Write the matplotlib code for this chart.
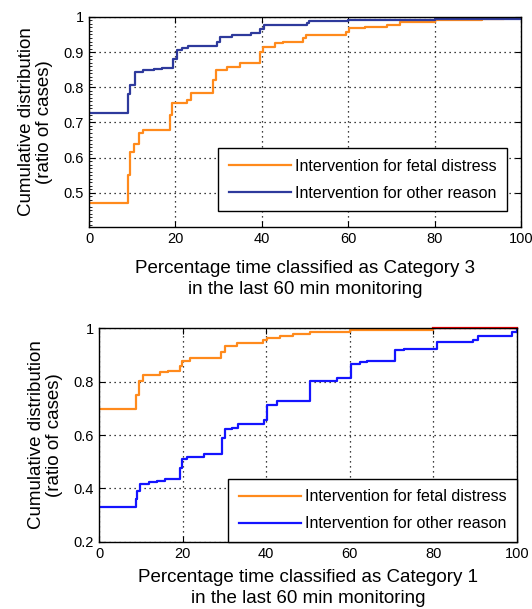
import numpy as np
import matplotlib
matplotlib.use("Agg")
import matplotlib.pyplot as plt
from matplotlib.ticker import MultipleLocator

plt.rcParams['font.family'] = ['Liberation Sans', 'DejaVu Sans']

# --- top panel: Category 3
cat3_fetal_x = [0, 9.1, 9.5, 10.0, 10.5, 11.5, 12.5, 18.8, 19.3, 19.9, 22.6, 23.5, 28.8, 29.3, 29.9,
                32, 35, 39.6, 40.3, 43, 45, 49.5, 50.2, 59.5, 60.3, 64, 69, 72, 80, 88, 91, 96, 100]
cat3_fetal_y = [0.472, 0.55, 0.617, 0.617, 0.64, 0.669, 0.678, 0.72, 0.754, 0.754, 0.764, 0.784, 0.82, 0.849, 0.849,
                0.858, 0.868, 0.90, 0.915, 0.925, 0.928, 0.94, 0.948, 0.958, 0.967, 0.971, 0.976, 0.986, 0.99, 0.9925, 0.995, 0.996, 0.996]
cat3_other_x = [0, 9.1, 9.6, 10.6, 12.5, 15, 17, 19.5, 20.3, 21.5, 23, 29.6, 30.3, 33, 37.5, 39.6, 40.5, 50.4, 51,
                60, 80, 100]
cat3_other_y = [0.726, 0.78, 0.806, 0.844, 0.848, 0.851, 0.854, 0.88, 0.906, 0.912, 0.917, 0.93, 0.944, 0.948, 0.955, 0.965,
                0.977, 0.983, 0.989, 0.991, 0.9935, 0.996]

# --- bottom panel: Category 1
cat1_fetal_x = [0, 8.85, 9.65, 10.6, 14.6, 16.6, 19.4, 19.8, 21.8, 29.3, 30.1, 32.9, 39.3, 40.1, 43.3,
                46.5, 50.5, 60, 80]
cat1_fetal_y = [0.698, 0.75, 0.801, 0.826, 0.835, 0.841, 0.86, 0.876, 0.888, 0.91, 0.932, 0.944, 0.955, 0.963, 0.973,
                0.978, 0.988, 0.993, 1.0]
cat1_other_x = [0, 8.85, 9.2, 9.8, 12, 13.8, 15.8, 19.4, 19.8, 21, 25, 29.5, 30.1, 31.7, 33.3, 39.5, 40.1,
                42.5, 50.5, 56.9, 60.4, 62.5, 64, 70.8, 73, 80.8, 89.5, 90.7, 98.7, 100]
cat1_other_y = [0.329, 0.36, 0.391, 0.416, 0.422, 0.429, 0.435, 0.478, 0.509, 0.518, 0.530, 0.59, 0.621, 0.627, 0.642,
                0.658, 0.714, 0.729, 0.801, 0.814, 0.866, 0.873, 0.878, 0.919, 0.923, 0.950, 0.957, 0.973, 0.985, 1.0]
cat1_red_x = [80, 100]
cat1_red_y = [1.0, 1.0]

labels = ['Intervention for fetal distress', 'Intervention for other reason']
ylab = 'Cumulative distribution\n(ratio of cases)'

fig = plt.figure(figsize=(5.32, 6.09), dpi=100)
ax1 = fig.add_axes([0.1673, 0.6273, 0.812, 0.345])
ax2 = fig.add_axes([0.1861, 0.1105, 0.7857, 0.3504])


def style(ax):
    ax.grid(True, linestyle=(0, (1, 3)), color='black', linewidth=0.9)
    ax.tick_params(direction='in', top=True, right=True, labelsize=10.5, length=4)
    for s in ax.spines.values():
        s.set_linewidth(1.0)
    ax.set_xlim(0, 100)
    ax.set_xticks([0, 20, 40, 60, 80, 100])


leg_kw = dict(fontsize=11.5, frameon=True, fancybox=False, edgecolor='black', framealpha=1,
              handlelength=3.9, handletextpad=0.25, borderpad=0.65, labelspacing=0.75, borderaxespad=0)

ax1.plot(cat3_fetal_x, cat3_fetal_y, drawstyle='steps-post', color='#ff8a1c', lw=1.6, label=labels[0])
ax1.plot(cat3_other_x, cat3_other_y, drawstyle='steps-post', color='#2e3a9c', lw=1.6, label=labels[1])
style(ax1)
ax1.set_ylim(0.403, 1.0)
ax1.set_yticks([0.5, 0.6, 0.7, 0.8, 0.9, 1])
ax1.set_yticklabels(['0.5', '0.6', '0.7', '0.8', '0.9', '1'])
ax1.yaxis.set_minor_locator(MultipleLocator(0.01))
ax1.tick_params(which='minor', direction='in', length=2, left=True, right=False)
ax1.set_xlabel('Percentage time classified as Category 3\nin the last 60 min monitoring',
               fontsize=13.5, labelpad=10, linespacing=1.3)
ax1.set_ylabel(ylab, fontsize=13.5, labelpad=8, linespacing=1.05)
ax1.legend(loc='lower right', bbox_to_anchor=(0.9676, 0.076), **leg_kw)

ax2.plot(cat1_fetal_x, cat1_fetal_y, drawstyle='steps-post', color='#ff8a1c', lw=1.6, label=labels[0])
ax2.plot(cat1_other_x, cat1_other_y, drawstyle='steps-post', color='#1414ff', lw=1.6, label=labels[1])
ax2.plot(cat1_red_x, cat1_red_y, color='#ff0000', lw=1.6, clip_on=False)
style(ax2)
ax2.set_ylim(0.2, 1.0)
ax2.set_yticks([0.2, 0.4, 0.6, 0.8, 1])
ax2.set_yticklabels(['0.2', '0.4', '0.6', '0.8', '1'])
ax2.set_xlabel('Percentage time classified as Category 1\nin the last 60 min monitoring',
               fontsize=13.5, labelpad=6, linespacing=1.3)
ax2.set_ylabel(ylab, fontsize=13.5, labelpad=8, linespacing=1.05)
ax2.legend(loc='lower right', bbox_to_anchor=(1.0, 0.0), **leg_kw)

fig.savefig('out.png', dpi=100)
